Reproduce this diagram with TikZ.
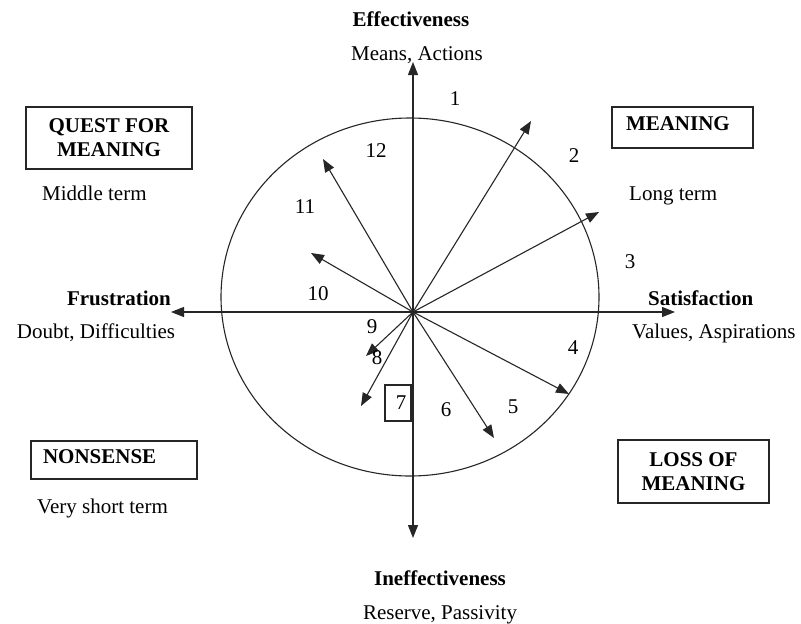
\documentclass[tikz,border=0pt]{standalone}
\usepackage{fontspec}
\setmainfont{Liberation Serif}
\usetikzlibrary{arrows.meta,shapes.geometric}
\begin{document}
\begin{tikzpicture}[x=1pt,y=-1pt,
  every node/.style={font=\fontsize{21}{24}\selectfont, inner sep=0pt},
  ln/.style={line width=1.1pt, draw=black!85},
  arr/.style={ln, -{Triangle[length=13pt,width=10pt]}},
  dbl/.style={ln, {Triangle[length=13pt,width=10pt]}-{Triangle[length=13pt,width=10pt]}},
  quad/.style={draw=black!85, line width=1.1pt, font=\fontsize{21}{24}\selectfont\bfseries},
  num/.style={anchor=center},
  txt/.style={anchor=base west},
  hd/.style={font=\fontsize{21}{24}\selectfont\bfseries},
]
\useasboundingbox (0,0) rectangle (801,624);
% circle
\node[ellipse, draw=black!85, line width=1.1pt, minimum width=378pt, minimum height=358pt, inner sep=0pt] (circ) at (410,297) {};
% axes
\coordinate (O) at (413,312);
\coordinate (T) at (413,62);
\coordinate (B) at (413,538);
\coordinate (L) at (171,312);
\coordinate (R) at (675,312);
\draw[dbl] (B) -- (T);
\draw[dbl] (L) -- (R);
% radial arrows
\coordinate (t1) at (531,121);
\coordinate (t2) at (599,212);
\coordinate (t4) at (569,394);
\coordinate (t5) at (494,438);
\coordinate (t8) at (361,406);
\coordinate (t9) at (366,356);
\coordinate (t10) at (311,253);
\coordinate (t11) at (323,159);
\foreach \t in {t1,t2,t4,t5,t8,t9,t10,t11} \draw[arr] (O) -- (\t);
% axis labels
\node[hd, anchor=base] (eff) at (411,26) {Effectiveness};
\node[anchor=base] (means) at (417,60) {Means, Actions};
\node[hd, anchor=base] (ineff) at (440,585) {Ineffectiveness};
\node[anchor=base] (reserve) at (440,619) {Reserve, Passivity};
\node[hd, anchor=base] (frus) at (119,305) {Frustration};
\node[anchor=base] (doubt) at (96,338) {Doubt, Difficulties};
\node[hd, anchor=base west] (sat) at (648,305) {Satisfaction};
\node[anchor=base west] (values) at (632,338) {Values, Aspirations};
% quadrant boxes
\node[quad, minimum width=166pt, minimum height=62pt, align=center] (quest) at (109,138) {QUEST FOR\\MEANING};
\node[quad, text width=113pt, inner xsep=14pt, inner ysep=0pt, minimum height=41pt, text depth=7pt, align=left] (meaning) at (682.5,127.5) {MEANING};
\node[quad, text width=142pt, inner xsep=12pt, inner ysep=0pt, minimum height=38pt, text depth=7pt, align=left] (nonsense) at (114,460) {NONSENSE};
\node[quad, minimum width=151pt, minimum height=63pt, align=center] (loss) at (693.5,471.5) {LOSS OF\\MEANING};
% terms
\node[txt] (middle) at (42,200) {Middle term};
\node[txt] (long) at (629,200) {Long term};
\node[txt] (vshort) at (37,513) {Very short term};
% sector numbers
\node[num] (n1) at (455,99) {1};
\node[num] (n2) at (574,156) {2};
\node[num] (n3) at (630,262) {3};
\node[num] (n4) at (573,348) {4};
\node[num] (n5) at (513,407) {5};
\node[num] (n6) at (446,410) {6};
\node[draw=black!85, line width=1.1pt, minimum width=26pt, minimum height=36pt, text depth=0pt] (n7) at (398,403) {\hspace{6pt}7};
\node[num] (n8) at (377,358) {8};
\node[num] (n9) at (372,327) {9};
\node[num] (n10) at (318,294) {10};
\node[num] (n11) at (305,207) {11};
\node[num] (n12) at (376,151) {12};
\end{tikzpicture}
\end{document}
